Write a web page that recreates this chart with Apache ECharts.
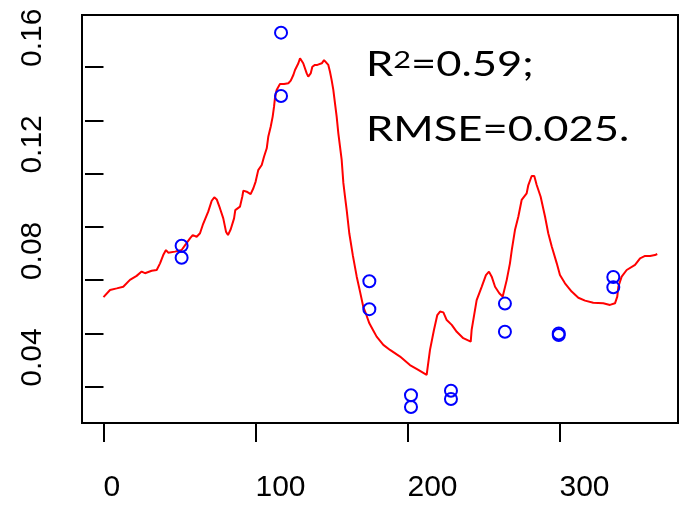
<!DOCTYPE html>
<html>
<head>
<meta charset="utf-8">
<script src="https://cdn.jsdelivr.net/npm/echarts@6/dist/echarts.min.js"></script>
<style>
  html, body { margin: 0; padding: 0; background: #fff; }
  #chart { width: 679px; height: 506px; }
</style>
</head>
<body>
<div id="chart"></div>
<script>
// Modelled seasonal curve (day, value)
const fittedDays = [0, 4.3, 8.7, 13.0, 17.4, 21.8, 25.1, 27.3, 31.7, 35.0, 37.2, 39.3, 41.1, 42.6, 47.0, 51.4,
  54.3, 56.9, 58.7, 61.3, 63.5, 65.3, 66.8, 68.9, 71.2, 72.9, 74.5, 76.6, 78.8, 80.6, 81.9, 83.7, 85.9, 86.7,
  87.6, 89.8, 91.3, 92.0, 94.2, 96.8, 98.6, 100.1, 101.8, 104.1, 105.6, 107.4, 108.4, 110.0, 111.3, 112.2,
  112.8, 113.9, 116.1, 118.8, 121.6, 123.2, 124.9, 126.0, 127.1, 128.2, 129.3, 130.4, 131.4, 132.6, 133.7,
  134.7, 136.3, 137.4, 139.1, 140.7, 142.0, 143.6, 145.1, 146.4, 147.9, 149.0, 150.1, 151.2, 152.3, 153.4,
  154.5, 155.6, 156.7, 157.8, 158.9, 160.0, 161.7, 164.1, 166.6, 168.8, 170.9, 172.7, 174.9, 177.3, 179.7,
  184.1, 188.5, 195.1, 201.6, 207.1, 212.6, 214.8, 217.4, 219.6, 221.4, 223.6, 225.8, 229.1, 232.4, 236.7,
  241.6, 242.2, 245.5, 248.8, 251.6, 253.6, 255.4, 257.6, 260.4, 262.6, 265.3, 267.4, 268.6, 270.7, 272.9,
  275.1, 278.4, 279.5, 281.7, 283.4, 285.0, 287.6, 290.5, 292.6, 294.9, 298.2, 300.3, 303.6, 308.0, 312.4,
  316.8, 322.2, 328.8, 333.2, 336.5, 338.0, 338.7, 340.9, 344.2, 349.7, 353.0, 356.3, 359.6, 362.8, 364.3];
const fittedValues = [0.0736, 0.0763, 0.0769, 0.0775, 0.0801, 0.0816, 0.0832, 0.0826, 0.0835, 0.0838, 0.0863,
  0.0894, 0.0913, 0.0903, 0.0907, 0.0913, 0.0936, 0.0957, 0.0969, 0.0963, 0.0976, 0.1007, 0.1028, 0.1057,
  0.1098, 0.1111, 0.1103, 0.1070, 0.1032, 0.0982, 0.0969, 0.0991, 0.1032, 0.1063, 0.1070, 0.1076, 0.1113,
  0.1136, 0.1132, 0.1123, 0.1145, 0.1170, 0.1213, 0.1232, 0.1263, 0.1295, 0.1338, 0.1376, 0.1414, 0.1451,
  0.1483, 0.1514, 0.1536, 0.1536, 0.1539, 0.1549, 0.1570, 0.1589, 0.1591, 0.1614, 0.1633, 0.1626, 0.1614,
  0.1611, 0.1576, 0.1564, 0.1576, 0.1601, 0.1608, 0.1608, 0.1611, 0.1614, 0.1626, 0.1626, 0.1608, 0.1582,
  0.1551, 0.1514, 0.1464, 0.1414, 0.1351, 0.1301, 0.1251, 0.1165, 0.1113, 0.1063, 0.0976, 0.0891, 0.0813,
  0.0756, 0.0700, 0.0673, 0.0638, 0.0613, 0.0588, 0.0557, 0.0538, 0.0513, 0.0481, 0.0463, 0.0444, 0.0538,
  0.0613, 0.0669, 0.0682, 0.0679, 0.0650, 0.0632, 0.0606, 0.0582, 0.0569, 0.0613, 0.0725, 0.0775, 0.0819,
  0.0832, 0.0813, 0.0775, 0.0751, 0.0738, 0.0801, 0.0863, 0.0913, 0.0988, 0.1038, 0.1101, 0.1126, 0.1157,
  0.1191, 0.1191, 0.1157, 0.1113, 0.1038, 0.0976, 0.0926, 0.0863, 0.0819, 0.0788, 0.0757, 0.0734, 0.0723,
  0.0715, 0.0713, 0.0707, 0.0713, 0.0738, 0.0775, 0.0813, 0.0838, 0.0857, 0.0882, 0.0891, 0.0891, 0.0894,
  0.0898];

// Field observations (day, value)
const obsDays = [51.4, 51.4, 116.8, 116.8, 174.9, 174.9, 202.3, 202.3, 228.6, 228.6, 264.1, 264.1,
  299.5, 299.5, 335.4, 335.4];
const obsValues = [0.0929, 0.0884, 0.1729, 0.1491, 0.0796, 0.0691, 0.0368, 0.0324, 0.0385, 0.0354,
  0.0712, 0.0606, 0.0600, 0.0594, 0.0812, 0.0773];

// Axis ticks and labels
const xTicks = [0, 100, 200, 300];
const yTicks = [0.04, 0.06, 0.08, 0.10, 0.12, 0.14, 0.16];
const yLabels = [0.04, 0.08, 0.12, 0.16];
const statLine1 = '=0.59;';
const statLine2 = 'RMSE=0.025.';

const chart = echarts.init(document.getElementById('chart'), null, { renderer: 'canvas' });

const axisFont = { fontFamily: '"Liberation Sans", Arial, sans-serif', fontSize: 30, color: '#000' };
const statFont = '"Lato", "Open Sans", sans-serif';

chart.setOption({
  animation: false,
  backgroundColor: '#fff',
  grid: {
    left: 82, right: 1, top: 15, bottom: 83,
    show: true, borderColor: '#000', borderWidth: 2,
    outerBoundsMode: 'none'
  },
  xAxis: {
    type: 'value',
    min: -14.14, max: 377.96,
    axisLine: { show: false },
    splitLine: { show: false },
    axisTick: {
      show: true, inside: false, length: 19,
      lineStyle: { color: '#000', width: 2 },
      customValues: xTicks
    },
    axisLabel: Object.assign({
      margin: 50, align: 'left',
      customValues: xTicks,
      formatter: v => String(Math.round(v))
    }, axisFont)
  },
  yAxis: {
    type: 'value',
    min: 0.02637, max: 0.17953,
    axisLine: { show: false },
    splitLine: { show: false },
    axisTick: {
      show: true, inside: false, length: 18.5,
      lineStyle: { color: '#000', width: 2 },
      customValues: yTicks
    },
    axisLabel: Object.assign({
      margin: 34, rotate: 90, align: 'left',
      customValues: yLabels,
      formatter: v => v.toFixed(2)
    }, axisFont)
  },
  series: [
    {
      type: 'line',
      data: fittedDays.map((d, i) => [d, fittedValues[i]]),
      showSymbol: false,
      smooth: false,
      lineStyle: { color: '#ff0000', width: 2 },
      z: 2
    },
    {
      type: 'scatter',
      data: obsDays.map((d, i) => [d, obsValues[i]]),
      symbol: 'circle',
      symbolSize: 12,
      itemStyle: { color: 'rgba(0,0,0,0)', borderColor: '#0000ff', borderWidth: 2, opacity: 1 },
      z: 3
    }
  ],
  graphic: [
    {
      type: 'text', x: 366, y: 48, scaleX: 1.28, z: 10,
      style: {
        text: '{a|R}{s|2}{a|' + statLine1 + '}',
        rich: {
          a: { fontFamily: statFont, fontSize: 34, fill: '#000', lineHeight: 34 },
          s: { fontFamily: statFont, fontSize: 24, fill: '#000', lineHeight: 24, verticalAlign: 'top' }
        },
        fill: '#000'
      }
    },
    {
      type: 'text', x: 366, y: 113, scaleX: 1.28, z: 10,
      style: { text: statLine2, font: '34px ' + statFont, fill: '#000' }
    }
  ]
});
</script>
</body>
</html>
